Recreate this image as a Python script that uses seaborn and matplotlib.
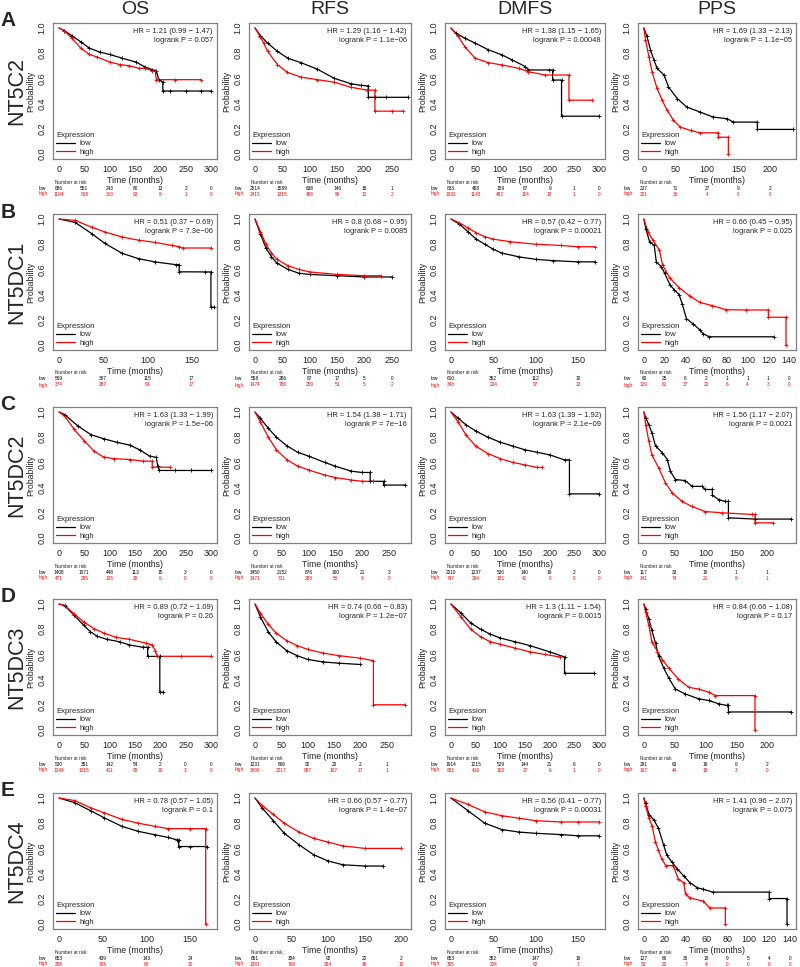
import matplotlib
matplotlib.use("Agg")
import matplotlib.pyplot as plt
import pandas as pd
import seaborn as sns
from matplotlib.lines import Line2D

# Row / column labels
ROWS = ["A", "B", "C", "D", "E"]
GENES = ["NT5C2", "NT5DC1", "NT5DC2", "NT5DC3", "NT5DC4"]
ENDPOINTS = ["OS", "RFS", "DMFS", "PPS"]

# x tick labels
T300 = [0, 50, 100, 150, 200, 250, 300]
T250 = [0, 50, 100, 150, 200, 250]
T200 = [0, 50, 100, 150, 200]
T150 = [0, 50, 100, 150]
T140 = [0, 20, 40, 60, 80, 100, 120, 140]

# ---- Kaplan-Meier curves, (time, probability) ----
A_OS_LOW = [(0, 1.0), (10, 0.98), (25, 0.94), (43, 0.89), (60, 0.84), (80, 0.81), (100, 0.79), (125, 0.76),
            (152, 0.73), (170, 0.69), (184, 0.67), (192, 0.66), (197, 0.59), (205, 0.57), (205, 0.50),
            (220, 0.50), (250, 0.50), (280, 0.50), (300, 0.50)]
A_OS_HIGH = [(0, 1.0), (10, 0.98), (25, 0.92), (43, 0.84), (60, 0.79), (75, 0.77), (100, 0.73), (120, 0.71),
             (139, 0.70), (158, 0.68), (170, 0.68), (184, 0.66), (190, 0.66), (192, 0.59), (230, 0.59), (280, 0.59)]
A_RFS_LOW = [(0, 1.0), (10, 0.94), (23, 0.88), (41, 0.815), (60, 0.76), (84, 0.725), (114, 0.673), (145, 0.60),
             (175, 0.558), (193, 0.545), (207, 0.54), (207, 0.45), (220, 0.45), (240, 0.45), (280, 0.45)]
A_RFS_HIGH = [(0, 1.0), (10, 0.93), (16, 0.88), (23, 0.815), (41, 0.71), (59, 0.648), (84, 0.61), (114, 0.59),
              (145, 0.57), (175, 0.53), (205, 0.507), (219, 0.507), (219, 0.34), (250, 0.34), (270, 0.34)]
A_DMFS_LOW = [(0, 1.0), (10, 0.96), (28, 0.92), (49, 0.88), (76, 0.827), (103, 0.787), (124, 0.747),
              (151, 0.693), (157, 0.667), (198, 0.667), (206, 0.667), (206, 0.587), (224, 0.587), (224, 0.30),
              (300, 0.30)]
A_DMFS_HIGH = [(0, 1.0), (15, 0.933), (28, 0.853), (49, 0.76), (76, 0.725), (103, 0.707), (137, 0.68),
               (157, 0.653), (191, 0.627), (239, 0.627), (239, 0.427), (285, 0.427)]
A_PPS_LOW = [(0, 1.0), (5, 0.933), (10.5, 0.827), (16, 0.747), (21, 0.68), (32, 0.627), (39, 0.533), (53, 0.44),
             (68, 0.373), (89, 0.333), (110, 0.293), (132, 0.28), (142, 0.253), (180, 0.253), (180, 0.195),
             (237, 0.195)]
A_PPS_HIGH = [(0, 1.0), (2.6, 0.907), (8, 0.773), (13, 0.653), (21, 0.52), (29, 0.427), (37, 0.347),
              (47, 0.267), (58, 0.213), (74, 0.187), (89, 0.168), (118, 0.168), (118, 0.133), (134, 0.133),
              (134, 0.0)]

B_OS_LOW = [(0, 1.0), (18, 0.974), (37, 0.884), (52, 0.806), (71, 0.729), (90, 0.685), (109, 0.659),
            (132, 0.638), (136, 0.638), (136, 0.581), (165, 0.58), (172, 0.58), (172, 0.30), (175, 0.30)]
B_OS_HIGH = [(0, 1.0), (18, 0.99), (37, 0.935), (52, 0.897), (71, 0.858), (90, 0.832), (109, 0.814),
             (128, 0.79), (136, 0.78), (140, 0.77), (172, 0.77)]
B_RFS_LOW = [(0, 1.0), (10, 0.88), (20, 0.77), (30, 0.70), (40, 0.65), (60, 0.60), (80, 0.57), (100, 0.56),
             (150, 0.55), (200, 0.54), (250, 0.54)]
B_RFS_HIGH = [(0, 1.0), (10, 0.90), (20, 0.80), (30, 0.73), (40, 0.68), (60, 0.63), (80, 0.60), (100, 0.58),
              (150, 0.56), (200, 0.55), (230, 0.55)]
B_DMFS_LOW = [(0, 1.0), (10, 0.96), (20, 0.90), (30, 0.84), (40, 0.80), (50, 0.76), (60, 0.73), (80, 0.70),
              (100, 0.68), (120, 0.67), (150, 0.66), (170, 0.66)]
B_DMFS_HIGH = [(0, 1.0), (10, 0.97), (20, 0.93), (30, 0.89), (40, 0.86), (50, 0.84), (70, 0.82), (100, 0.80),
               (130, 0.79), (150, 0.78), (170, 0.78)]
B_PPS_LOW = [(0, 1.0), (2, 0.92), (5.5, 0.82), (10, 0.79), (12, 0.66), (17, 0.62), (20, 0.57), (25, 0.48),
             (29, 0.44), (34, 0.40), (37, 0.325), (41, 0.21), (47, 0.17), (54, 0.12), (57, 0.09), (63, 0.065),
             (125, 0.065)]
B_PPS_HIGH = [(0, 1.0), (4, 0.896), (9, 0.83), (15, 0.753), (18, 0.636), (25, 0.532), (34, 0.455), (44, 0.39),
              (54, 0.338), (66, 0.312), (79, 0.28), (98, 0.278), (120, 0.278), (120, 0.22), (137, 0.22),
              (137, 0.0)]

C_OS_LOW = [(0, 1.0), (11, 0.98), (37, 0.89), (63, 0.82), (88, 0.788), (114, 0.76), (140, 0.737), (159, 0.70),
            (179, 0.65), (192, 0.64), (195, 0.57), (198, 0.536), (230, 0.536), (260, 0.536), (300, 0.536)]
C_OS_HIGH = [(0, 1.0), (11, 0.968), (30, 0.862), (50, 0.77), (69, 0.69), (88, 0.642), (108, 0.63), (140, 0.623),
             (166, 0.61), (184, 0.61), (184, 0.562), (220, 0.562)]
C_RFS_LOW = [(0, 1.0), (10, 0.95), (25, 0.87), (40, 0.80), (60, 0.73), (80, 0.68), (100, 0.65), (130, 0.60),
             (150, 0.57), (180, 0.53), (200, 0.52), (215, 0.52), (215, 0.45), (240, 0.45), (240, 0.42),
             (280, 0.42)]
C_RFS_HIGH = [(0, 1.0), (10, 0.92), (25, 0.80), (40, 0.70), (60, 0.62), (80, 0.57), (100, 0.54), (130, 0.50),
              (150, 0.48), (180, 0.46), (200, 0.45), (220, 0.45)]
C_DMFS_LOW = [(0, 1.0), (15, 0.95), (30, 0.90), (50, 0.85), (75, 0.80), (100, 0.76), (125, 0.73), (150, 0.70),
              (175, 0.68), (200, 0.66), (230, 0.62), (240, 0.62), (240, 0.35), (300, 0.35)]
C_DMFS_HIGH = [(0, 1.0), (15, 0.92), (30, 0.82), (50, 0.73), (75, 0.67), (100, 0.63), (125, 0.60),
               (150, 0.58), (175, 0.56), (185, 0.56)]
C_PPS_LOW = [(0, 1.0), (3, 0.955), (8, 0.90), (13, 0.835), (19, 0.73), (30, 0.676), (38, 0.623), (43, 0.53),
             (51, 0.464), (67, 0.456), (78, 0.41), (94, 0.41), (99, 0.385), (111, 0.385), (111, 0.34),
             (121, 0.305), (132, 0.29), (137, 0.29), (137, 0.16), (180, 0.15), (239, 0.15)]
C_PPS_HIGH = [(0, 1.0), (3, 0.90), (8, 0.77), (13, 0.66), (24, 0.557), (35, 0.437), (46, 0.358), (62, 0.29),
              (78, 0.25), (99, 0.21), (126, 0.20), (175, 0.187), (180, 0.187), (180, 0.12), (210, 0.12)]

D_OS_LOW = [(0, 1.0), (11, 0.987), (30, 0.91), (49, 0.83), (62, 0.78), (75, 0.745), (94, 0.72), (120, 0.70),
            (139, 0.675), (165, 0.657), (175, 0.657), (175, 0.584), (199, 0.584), (199, 0.30), (206, 0.30)]
D_OS_HIGH = [(0, 1.0), (11, 0.99), (30, 0.92), (49, 0.857), (69, 0.805), (88, 0.77), (113, 0.735),
             (139, 0.72), (171, 0.69), (184, 0.675), (190, 0.63), (194, 0.585), (240, 0.585), (300, 0.585)]
D_RFS_LOW = [(0, 1.0), (10, 0.90), (25, 0.78), (40, 0.70), (60, 0.63), (80, 0.59), (100, 0.56), (130, 0.54),
             (160, 0.53), (200, 0.52)]
D_RFS_HIGH = [(0, 1.0), (10, 0.93), (25, 0.84), (40, 0.77), (60, 0.71), (80, 0.67), (100, 0.64), (130, 0.61),
              (160, 0.59), (200, 0.57), (225, 0.55), (225, 0.20), (285, 0.20)]
D_DMFS_LOW = [(0, 1.0), (20, 0.93), (40, 0.85), (60, 0.80), (80, 0.76), (100, 0.73), (130, 0.70), (160, 0.67),
              (200, 0.62), (230, 0.58), (230, 0.45), (290, 0.45)]
D_DMFS_HIGH = [(0, 1.0), (20, 0.90), (40, 0.80), (60, 0.74), (80, 0.70), (100, 0.68), (130, 0.65),
               (160, 0.62), (190, 0.60), (220, 0.58)]
D_PPS_LOW = [(0, 1.0), (3, 0.96), (8, 0.883), (13, 0.79), (19, 0.688), (24, 0.584), (32, 0.494), (40, 0.416),
             (51, 0.325), (67, 0.286), (89, 0.247), (105, 0.234), (121, 0.208), (134, 0.195), (137, 0.195),
             (137, 0.143), (239, 0.143)]
D_PPS_HIGH = [(0, 1.0), (3, 0.935), (8, 0.83), (13, 0.70), (22, 0.623), (30, 0.558), (40, 0.494), (56, 0.403),
              (73, 0.338), (89, 0.325), (105, 0.30), (116, 0.273), (180, 0.273), (180, 0.0)]

E_OS_LOW = [(0, 1.0), (18, 0.963), (37, 0.896), (52, 0.842), (72, 0.775), (91, 0.735), (110, 0.708),
            (125, 0.687), (135, 0.668), (137, 0.668), (137, 0.615), (150, 0.615), (170, 0.615)]
E_OS_HIGH = [(0, 1.0), (18, 0.98), (37, 0.92), (52, 0.882), (72, 0.83), (91, 0.80), (110, 0.775), (125, 0.757),
             (150, 0.757), (168, 0.757), (168, 0.0)]
E_RFS_LOW = [(0, 1.0), (10, 0.92), (25, 0.82), (40, 0.72), (60, 0.63), (80, 0.55), (100, 0.50), (120, 0.47),
             (150, 0.46), (175, 0.46)]
E_RFS_HIGH = [(0, 1.0), (10, 0.94), (25, 0.87), (40, 0.80), (60, 0.73), (80, 0.68), (100, 0.65), (120, 0.62),
              (150, 0.60), (200, 0.60)]
E_DMFS_LOW = [(0, 1.0), (20, 0.90), (40, 0.80), (60, 0.75), (80, 0.73), (100, 0.72), (130, 0.71), (150, 0.70),
              (175, 0.70)]
E_DMFS_HIGH = [(0, 1.0), (20, 0.95), (40, 0.89), (60, 0.86), (80, 0.84), (100, 0.82), (130, 0.81),
               (150, 0.81), (175, 0.81)]
E_PPS_LOW = [(0, 1.0), (1.6, 0.962), (5, 0.868), (9.5, 0.828), (14, 0.76), (19, 0.625), (22, 0.545), (27, 0.49),
             (32, 0.437), (38, 0.383), (44, 0.329), (51, 0.288), (57, 0.275), (66, 0.253), (120, 0.253),
             (120, 0.202), (137, 0.202), (137, 0.0)]
E_PPS_HIGH = [(0, 1.0), (1.6, 0.935), (5, 0.84), (8, 0.774), (11, 0.652), (14, 0.585), (17, 0.518), (21, 0.464),
              (28, 0.464), (33, 0.356), (38, 0.329), (40, 0.235), (44, 0.208), (57, 0.18), (63, 0.127),
              (78, 0.127), (78, 0.0)]

# ---- HR / logrank text per row (OS, RFS, DMFS, PPS) ----
HR_A = ["1.21 (0.99 \u2212 1.47)", "1.29 (1.16 \u2212 1.42)", "1.38 (1.15 \u2212 1.65)", "1.69 (1.33 \u2212 2.13)"]
P_A = ["0.057", "1.1e\u221206", "0.00048", "1.1e\u221205"]
HR_B = ["0.51 (0.37 \u2212 0.69)", "0.8 (0.68 \u2212 0.95)", "0.57 (0.42 \u2212 0.77)", "0.66 (0.45 \u2212 0.95)"]
P_B = ["7.3e\u221206", "0.0085", "0.00021", "0.025"]
HR_C = ["1.63 (1.33 \u2212 1.99)", "1.54 (1.38 \u2212 1.71)", "1.63 (1.39 \u2212 1.92)", "1.56 (1.17 \u2212 2.07)"]
P_C = ["1.5e\u221206", "7e\u221216", "2.1e\u221209", "0.0021"]
HR_D = ["0.89 (0.72 \u2212 1.09)", "0.74 (0.66 \u2212 0.83)", "1.3 (1.11 \u2212 1.54)", "0.84 (0.66 \u2212 1.08)"]
P_D = ["0.26", "1.2e\u221207", "0.0015", "0.17"]
HR_E = ["0.78 (0.57 \u2212 1.05)", "0.66 (0.57 \u2212 0.77)", "0.56 (0.41 \u2212 0.77)", "1.41 (0.96 \u2212 2.07)"]
P_E = ["0.1", "1.4e\u221207", "0.00031", "0.075"]

# ---- numbers at risk (low, high) ----
RISK_A_OS = ([686, 551, 243, 80, 13, 2, 0], [1184, 815, 310, 63, 8, 1, 0])
RISK_A_RFS = ([2514, 1589, 638, 146, 15, 1], [2415, 1315, 486, 96, 12, 2])
RISK_A_DMFS = ([833, 488, 159, 67, 9, 1, 0], [1932, 1143, 482, 114, 18, 1, 0])
RISK_A_PPS = ([237, 71, 27, 9, 2], [221, 36, 4, 0, 0])
RISK_B_OS = ([569, 367, 115, 17], [374, 287, 94, 17])
RISK_B_RFS = ([558, 286, 87, 17, 5, 0], [1474, 786, 259, 51, 5, 2])
RISK_B_DMFS = ([610, 352, 112, 10], [348, 234, 97, 13])
RISK_B_PPS = ([60, 25, 6, 2, 1, 1, 1, 0], [120, 61, 37, 20, 6, 4, 3, 0])
RISK_C_OS = ([1408, 1071, 448, 113, 15, 3, 0], [471, 295, 105, 30, 6, 0, 0])
RISK_C_RFS = ([3450, 2152, 876, 190, 21, 3], [1471, 731, 258, 56, 9, 0])
RISK_C_DMFS = ([2010, 1237, 530, 140, 19, 2, 0], [747, 394, 151, 41, 0, 0, 0])
RISK_C_PPS = ([117, 33, 10, 1, 1], [341, 74, 21, 8, 1])
RISK_D_OS = ([530, 351, 142, 54, 2, 0, 0], [1349, 1015, 411, 89, 19, 3, 0])
RISK_D_RFS = ([1231, 666, 92, 20, 2, 1], [3698, 2217, 897, 167, 17, 1])
RISK_D_DMFS = ([1914, 1215, 529, 144, 21, 6, 0], [651, 416, 152, 37, 6, 1, 0])
RISK_D_PPS = ([291, 63, 16, 6, 2], [167, 44, 15, 3, 0])
RISK_E_OS = ([653, 439, 143, 24], [298, 195, 66, 10])
RISK_E_RFS = ([651, 304, 92, 20, 2], [1081, 768, 254, 48, 10])
RISK_E_DMFS = ([653, 382, 147, 16], [305, 204, 62, 7])
RISK_E_PPS = ([127, 66, 36, 18, 9, 5, 4, 0], [53, 20, 7, 4, 0, 0, 0, 0])

# x ticks and data extent of each panel
TICKS_A, XMAX_A = [T300, T250, T300, T200], [300, 274, 300, 232]
TICKS_B, XMAX_B = [T150, T250, T150, T140], [172, 274, 175, 141]
TICKS_C, XMAX_C = [T300, T250, T300, T200], [300, 280, 300, 237]
TICKS_D, XMAX_D = [T300, T250, T300, T200], [300, 285, 300, 237]
TICKS_E, XMAX_E = [T150, T200, T150, T140], [174, 205, 175, 140]

CURVES = {
    "A": [(A_OS_LOW, A_OS_HIGH), (A_RFS_LOW, A_RFS_HIGH), (A_DMFS_LOW, A_DMFS_HIGH), (A_PPS_LOW, A_PPS_HIGH)],
    "B": [(B_OS_LOW, B_OS_HIGH), (B_RFS_LOW, B_RFS_HIGH), (B_DMFS_LOW, B_DMFS_HIGH), (B_PPS_LOW, B_PPS_HIGH)],
    "C": [(C_OS_LOW, C_OS_HIGH), (C_RFS_LOW, C_RFS_HIGH), (C_DMFS_LOW, C_DMFS_HIGH), (C_PPS_LOW, C_PPS_HIGH)],
    "D": [(D_OS_LOW, D_OS_HIGH), (D_RFS_LOW, D_RFS_HIGH), (D_DMFS_LOW, D_DMFS_HIGH), (D_PPS_LOW, D_PPS_HIGH)],
    "E": [(E_OS_LOW, E_OS_HIGH), (E_RFS_LOW, E_RFS_HIGH), (E_DMFS_LOW, E_DMFS_HIGH), (E_PPS_LOW, E_PPS_HIGH)],
}
STATS = {"A": (HR_A, P_A), "B": (HR_B, P_B), "C": (HR_C, P_C), "D": (HR_D, P_D), "E": (HR_E, P_E)}
RISKS = {
    "A": [RISK_A_OS, RISK_A_RFS, RISK_A_DMFS, RISK_A_PPS],
    "B": [RISK_B_OS, RISK_B_RFS, RISK_B_DMFS, RISK_B_PPS],
    "C": [RISK_C_OS, RISK_C_RFS, RISK_C_DMFS, RISK_C_PPS],
    "D": [RISK_D_OS, RISK_D_RFS, RISK_D_DMFS, RISK_D_PPS],
    "E": [RISK_E_OS, RISK_E_RFS, RISK_E_DMFS, RISK_E_PPS],
}
AXES = {"A": (TICKS_A, XMAX_A), "B": (TICKS_B, XMAX_B), "C": (TICKS_C, XMAX_C),
        "D": (TICKS_D, XMAX_D), "E": (TICKS_E, XMAX_E)}

# layout in pixels (figure is 800 x 967)
W, H = 800, 967
COL_LEFT = [53, 249, 445, 638]
COL_W = [164, 162, 160, 158]
ROW_TOP = [23, 214, 407, 599, 793]
AX_H = 136
BOX = "#808080"
COLORS = {"low": "black", "high": "red"}

sns.set_style("white")
plt.rcParams["font.family"] = ["Liberation Sans", "DejaVu Sans"]


def draw_panel(ax, low, high, hr, p, ticks, xmax, risk, ax_w):
    for name, pts in (("low", low), ("high", high)):
        df = pd.DataFrame(pts, columns=["time", "prob"])
        sns.lineplot(data=df, x="time", y="prob", ax=ax, color=COLORS[name], lw=0.9,
                     estimator=None, sort=False, legend=False)
        sns.scatterplot(data=df.iloc[1:], x="time", y="prob", ax=ax, color=COLORS[name],
                        marker="+", s=12, linewidth=0.6, legend=False, zorder=3)

    ax.set_xlim(-0.04 * xmax, 1.04 * xmax)
    ax.set_ylim(-0.04, 1.04)
    ax.set_xticks(ticks)
    ax.set_xticklabels([str(t) for t in ticks], fontsize=6.5)
    yt = [0.0, 0.2, 0.4, 0.6, 0.8, 1.0]
    ax.set_yticks(yt)
    ax.set_yticklabels([f"{v:.1f}" for v in yt], fontsize=6.5, rotation=90, va="center")
    ax.tick_params(length=3, width=0.5, color="#333333", pad=1.5)
    ax.set_xlabel("Time (months)", fontsize=6.3, labelpad=1.5)
    ax.set_ylabel("Probability", fontsize=6.3, labelpad=2)
    for s in ax.spines.values():
        s.set_color(BOX)
        s.set_linewidth(0.9)

    ax.text(0.975, 0.965, f"HR = {hr}\nlogrank P = {p}", transform=ax.transAxes,
            ha="right", va="top", fontsize=5.4, linespacing=1.35)

    handles = [Line2D([], [], color="black", lw=0.9), Line2D([], [], color="red", lw=0.9)]
    leg = ax.legend(handles, ["low", "high"], title="Expression", loc="lower left",
                    frameon=False, fontsize=5.6, title_fontsize=5.6, handlelength=2.4,
                    labelspacing=0.15, borderaxespad=0.2, borderpad=0.2, handletextpad=0.6)
    leg._legend_box.align = "left"

    # number-at-risk table
    ax.text(0.01, -23 / AX_H, "Number at risk", transform=ax.transAxes, fontsize=3.4,
            ha="left", va="center")
    for (counts, name, dy) in ((risk[0], "low", -29), (risk[1], "high", -35)):
        col = COLORS[name]
        ax.text(-14 / ax_w, dy / AX_H, name, transform=ax.transAxes, fontsize=3.4,
                ha="left", va="center", color=col)
        for t, n in zip(ticks, counts):
            ax.annotate(str(n), xy=(t, 0), xycoords=("data", "axes fraction"),
                        xytext=(0, dy * 0.72), textcoords="offset points",
                        ha="center", va="center", fontsize=3.4, color=col)


fig = plt.figure(figsize=(W / 100, H / 100), dpi=100)

for c, ep in enumerate(ENDPOINTS):
    fig.text((COL_LEFT[c] + COL_W[c] / 2) / W, 1 - 10 / H, ep, fontsize=14, ha="center", va="center")

for r, row in enumerate(ROWS):
    top = ROW_TOP[r]
    fig.text(8 / W, 1 - (top - 2) / H, row, fontsize=15, fontweight="bold", ha="center", va="center")
    fig.text(17 / W, 1 - (top + AX_H / 2) / H, GENES[r], fontsize=15.5, rotation=90,
             ha="center", va="center")
    hrs, ps = STATS[row]
    ticks_row, xmax_row = AXES[row]
    for c in range(4):
        ax = fig.add_axes([COL_LEFT[c] / W, 1 - (top + AX_H) / H, COL_W[c] / W, AX_H / H])
        low, high = CURVES[row][c]
        draw_panel(ax, low, high, hrs[c], ps[c], ticks_row[c], xmax_row[c], RISKS[row][c], COL_W[c])

fig.savefig("out.png", dpi=100)
